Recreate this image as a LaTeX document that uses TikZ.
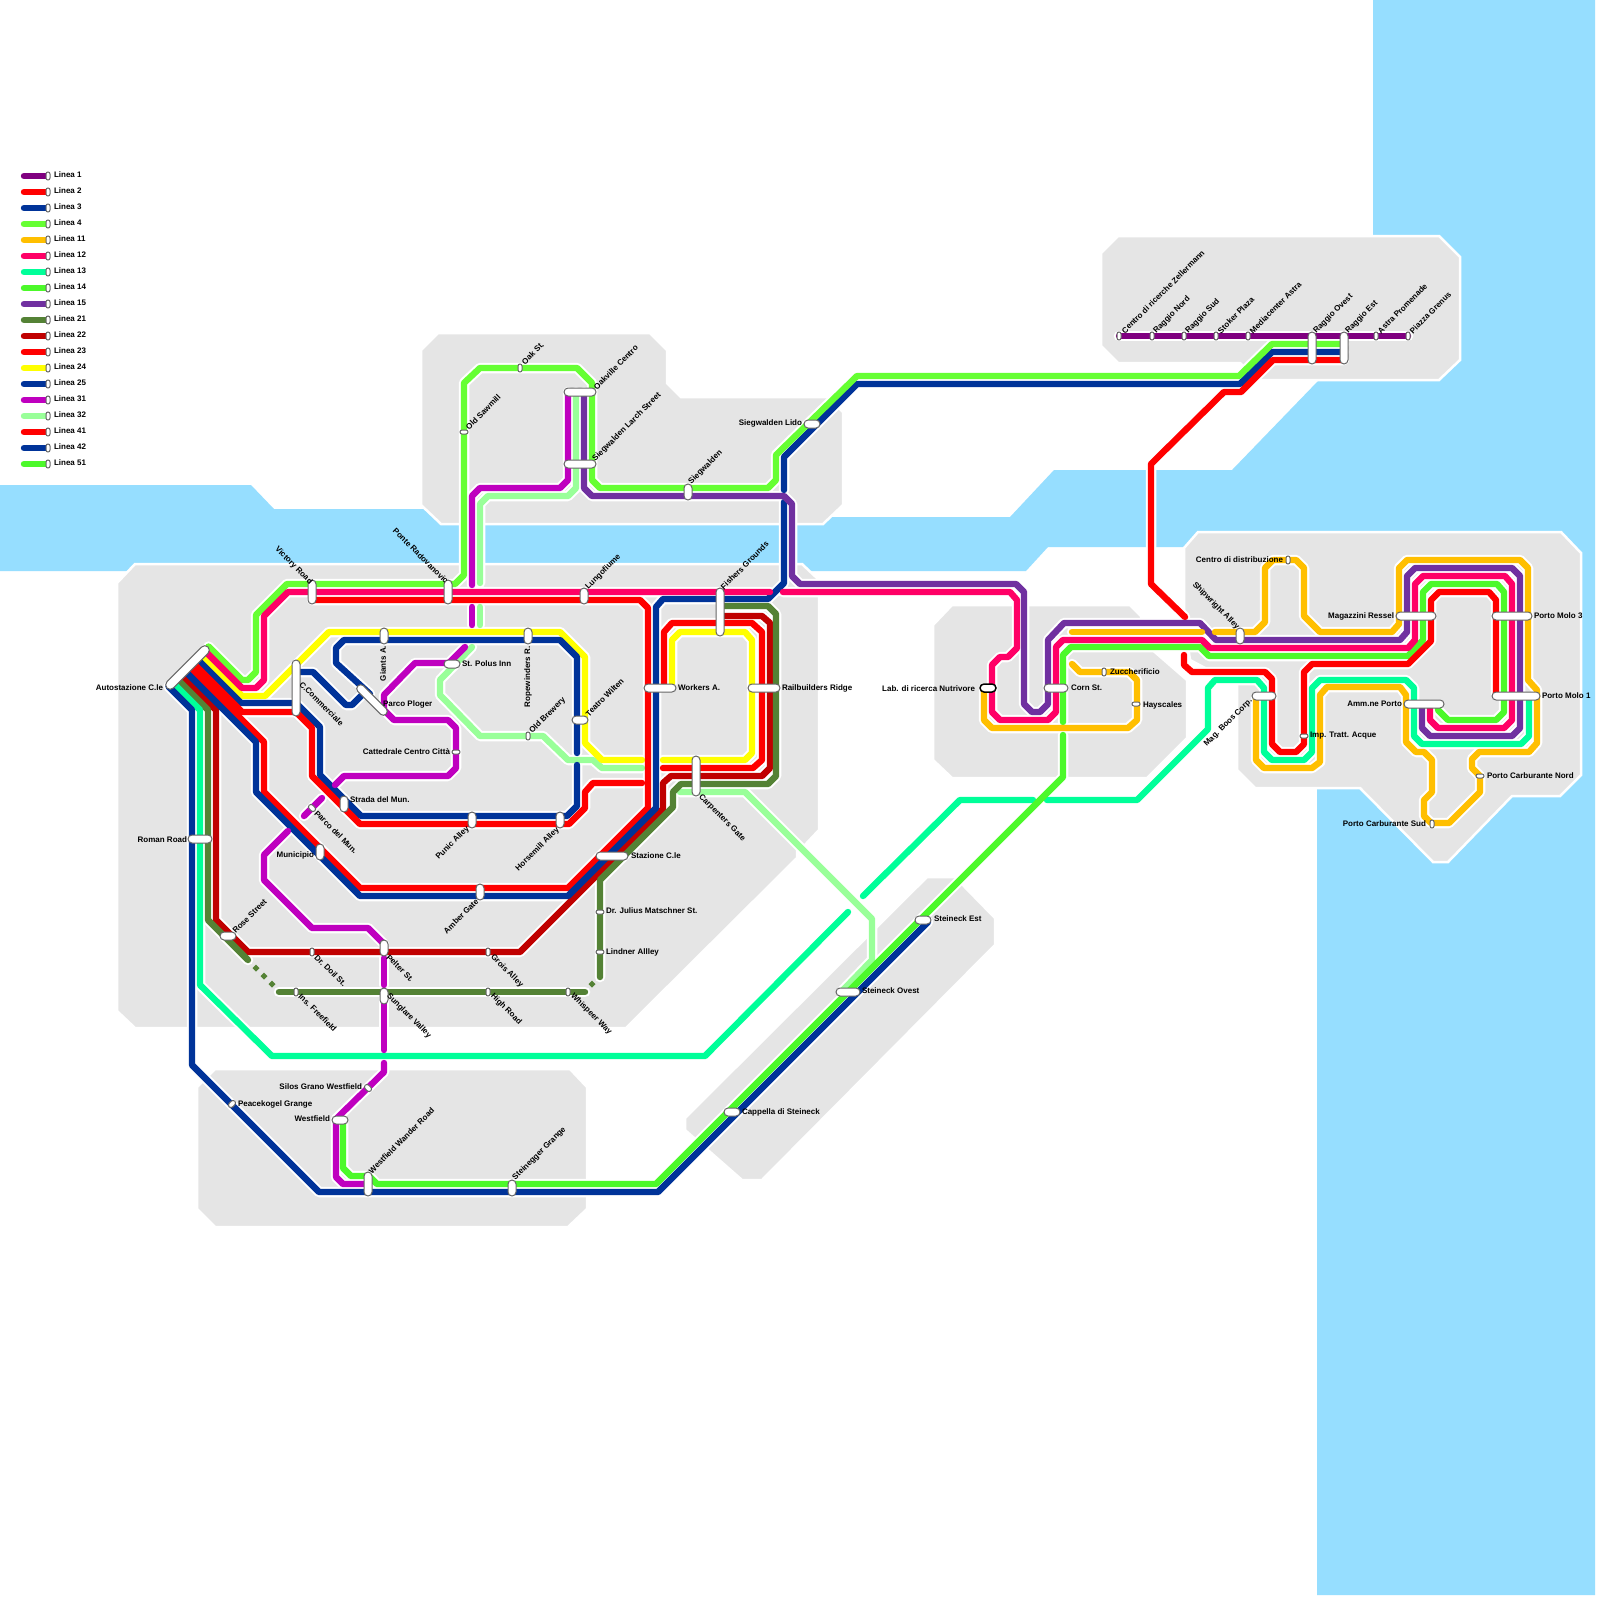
\documentclass[tikz,border=0pt]{standalone}
\usepackage{fontspec}
\setmainfont{Liberation Sans}
\usetikzlibrary{shapes.misc}
\definecolor{water}{HTML}{96DEFF}
\definecolor{land}{HTML}{E5E5E5}
\definecolor{cA}{HTML}{800080}
\definecolor{cR}{HTML}{FF0000}
\definecolor{cB}{HTML}{003399}
\definecolor{cL}{HTML}{66FF33}
\definecolor{cY}{HTML}{FFBF00}
\definecolor{cP}{HTML}{FF0066}
\definecolor{cM}{HTML}{00FF99}
\definecolor{cG}{HTML}{4CF92A}
\definecolor{cV}{HTML}{7030A0}
\definecolor{cO}{HTML}{548235}
\definecolor{cD}{HTML}{C00000}
\definecolor{cW}{HTML}{FFFF00}
\definecolor{cH}{HTML}{BF00BF}
\definecolor{cT}{HTML}{99FF99}
\tikzset{
  landbit/.style={fill=land,draw=white,line width=2.5},
  halo/.style={draw=white,line width=10.5,line cap=round,line join=round},
  core/.style={line width=6.4,line cap=round,line join=round},
  stop/.style={rounded rectangle,draw=black!60,fill=white,line width=1,inner sep=0,outer sep=0},
  lbl/.style={inner sep=0,outer sep=0,font=\fontsize{8}{10}\selectfont\bfseries},
}
\newcounter{lc}
\newcommand\stn[6]{\node[stop,minimum width=#4,minimum height=#5,rotate=#6] (#1) at (#2,#3) {};}
\newcommand\lab[5]{\stepcounter{lc}\node[lbl,anchor=#1,rotate=#2] (lab\thelc) at (#3,#4) {#5};}
\newcommand\dotmark[2]{\fill[cO] (#1-3.5,#2) -- (#1,#2-3.5) -- (#1+3.5,#2) -- (#1,#2+3.5) -- cycle;}
\newcommand\ml[2]{}
\newcommand\alllines{%
\ml{cA}{(1119,336)--(1408,336)}
\ml{cT}{(576,392)--(576,488)--(568,496)--(488,496)--(480,504)--(480,583)}
\ml{cT}{(480,607)--(480,625)}
\ml{cT}{(472,647)--(440,680)--(440,695)--(480,736)--(543,736)--(568,760)--(593,760)--(602,768)--(642,768)}
\ml{cT}{(680,792)--(745,792)--(872,919)--(872,960)--(843,990)}
\ml{cD}{(180.5,674.5)--(216,710)--(216,920)--(248,952)--(520,952)--(663,809)--(663,783)--(671,776)--(762,776)--(770,768)--(770,623)--(762,616)--(723,616)}
\ml{cO}{(176.5,678.5)--(208,710)--(208,920)--(248,960)}
\ml{cO}{(279,992)--(585,992)}
\ml{cO}{(600,977)--(600,880)--(673,807)--(673,792)--(681,784)--(768,784)--(776,776)--(776,614)--(768,606)--(723,606)}
\ml{cM}{(172.5,682.5)--(200,710)--(200,985)--(272,1056)--(705,1056)--(848,912)}
\ml{cM}{(863,896)--(960,800)--(1033,800)}
\ml{cM}{(1047,800)--(1137,800)--(1208,729)--(1208,688)--(1215,680)--(1257,680)--(1264,688)--(1264,752)--(1272,760)--(1304,760)--(1312,752)--(1312,688)--(1320,680)--(1406,680)--(1414,688)--(1414,736)--(1422,744)--(1521,744)--(1529,736)--(1529,700)}
\ml{cW}{(200.5,654.5)--(242,696)--(265,696)--(329,632)--(560,632)--(585,657)--(585,743)--(602,760)--(642,760)}
\ml{cW}{(663,760)--(745,760)--(752,753)--(752,640)--(745,632)--(680,632)--(672,640)--(672,683)}
\ml{cR}{(663,768)--(753,768)--(762,760)--(762,632)--(752,623)--(672,623)--(664,632)--(664,683)}
\ml{cB}{(296,672)--(313,672)--(346,705)--(352,705)--(364,693)}
\ml{cB}{(370,694)--(336,663)--(336,648)--(344,640)--(560,640)--(577,657)--(577,753)}
\ml{cB}{(196.5,658.5)--(241,703)--(296,703)--(320,727)--(320,775)--(361,816)--(567,816)--(577,806)--(577,765)}
\ml{cR}{(192.5,662.5)--(242,712)--(296,712)--(312,728)--(312,776)--(360,824)--(569,824)--(585,808)--(585,792)--(593,783)--(642,783)}
\ml{cR}{(188.5,666.5)--(264,742)--(264,792)--(360,888)--(568,888)--(648,808)--(648,608)--(640,600)--(312,600)}
\ml{cB}{(184.5,670.5)--(256,742)--(256,792)--(360,896)--(568,896)--(656,808)--(656,607)--(663,599)--(768,599)--(784,583)--(784,502)}
\ml{cB}{(784,490)--(784,457)--(857,384)--(1240,384)--(1272,352)--(1344,352)}
\ml{cR}{(1344,360)--(1273,360)--(1241,392)--(1224,392)--(1151,464)--(1151,584)--(1185,617)}
\ml{cB}{(168.5,686.5)--(192,710)--(192,1065)--(319,1192)--(658,1192)--(928,922)}
\ml{cG}{(343,1122)--(343,1168)--(351,1176)--(369,1176)--(377,1184)--(656,1184)--(1063,777)--(1063,735)}
\ml{cG}{(1063,722)--(1063,655)--(1071,647)--(1200,647)--(1209,656)--(1408,656)--(1423,640)--(1423,592)--(1431,584)--(1497,584)--(1504,592)--(1504,712)--(1496,720)--(1448,720)--(1438,710)--(1438,705)}
\ml{cL}{(208.5,646.5)--(242,680)--(248,680)--(256,672)--(256,615)--(287,584)--(455,584)--(464,575)--(464,383)--(480,368)--(577,368)--(592,383)--(592,480)--(600,488)--(768,488)--(776,480)--(776,455)--(857,376)--(1239,376)--(1272,344)--(1344,344)}
\ml{cP}{(204.5,650.5)--(242,688)--(256,688)--(264,680)--(264,616)--(288,592)--(770,592)}
\ml{cP}{(783,592)--(1010,592)--(1017,600)--(1017,648)--(1008,657)--(1000,657)--(992,665)--(992,712)--(1000,720)--(1048,720)--(1056,712)--(1056,647)--(1063,640)--(1202,640)--(1210,648)--(1408,648)--(1415,640)--(1415,584)--(1423,576)--(1505,576)--(1512,584)--(1512,720)--(1504,728)--(1438,728)--(1430,720)--(1430,705)}
\ml{cV}{(584,392)--(584,488)--(592,496)--(784,496)--(792,504)--(792,576)--(800,584)--(1016,584)--(1024,592)--(1024,704)--(1032,712)--(1040,712)--(1048,704)--(1048,640)--(1064,623)--(1200,623)--(1216,640)--(1400,640)--(1407,632)--(1407,576)--(1415,568)--(1512,568)--(1520,576)--(1520,728)--(1512,736)--(1430,736)--(1422,728)--(1422,705)}
\ml{cR}{(1184,655)--(1184,665)--(1192,672)--(1265,672)--(1272,679)--(1272,744)--(1280,752)--(1296,752)--(1304,744)--(1304,672)--(1312,664)--(1408,664)--(1431,641)--(1431,600)--(1439,592)--(1489,592)--(1496,600)--(1496,695)}
\ml{cH}{(568,392)--(568,480)--(560,488)--(480,488)--(472,496)--(472,585)}
\ml{cH}{(472,607)--(472,625)}
\ml{cH}{(465,647)--(449,663)--(415,663)--(384,695)--(384,710)--(394,720)--(448,720)--(456,728)--(456,768)--(448,776)--(344,776)--(335,785)}
\ml{cH}{(322,798)--(304,816)}
\ml{cH}{(288,831)--(264,855)--(264,880)--(312,928)--(368,928)--(384,944)}
\ml{cH}{(384,958)--(384,985)}
\ml{cH}{(384,996)--(384,1050)}
\ml{cH}{(384,1063)--(384,1072)--(336,1119)--(336,1177)--(343,1184)--(369,1184)}
\ml{cY}{(984,688)--(984,720)--(992,728)--(1128,728)--(1137,720)--(1137,680)--(1129,672)--(1080,672)--(1072,664)}
\ml{cY}{(1072,632)--(1202,632)}
\ml{cY}{(1215,632)--(1255,632)--(1265,622)--(1265,568)--(1273,560)--(1296,560)--(1304,568)--(1304,616)--(1320,632)--(1392,632)--(1399,624)--(1399,568)--(1407,560)--(1520,560)--(1528,568)--(1528,680)--(1537,690)--(1537,743)--(1529,752)--(1479,752)--(1472,759)--(1472,768)--(1480,776)--(1480,792)--(1449,823)--(1431,823)--(1424,816)--(1424,800)--(1432,792)--(1432,760)--(1424,752)--(1416,752)--(1406,742)--(1406,695)--(1400,687)--(1327,687)--(1320,695)--(1320,762)--(1312,768)--(1264,768)--(1256,760)--(1256,698)}
}
\begin{document}
\begin{tikzpicture}[x=1pt,y=-1pt]
\useasboundingbox (0,0) rectangle (1600,1600);
\fill[white] (0,0) rectangle (1600,1600);
% water
\fill[water] (0,485)--(251,485)--(274,509)--(500,509)--(500,517)--(1010,517)--(1054,470)--(1232,470)--(1318,381)--(1373,381)--(1373,0)--(1595,0)--(1595,1595)--(1317,1595)--(1317,789)--(1300,700)--(1300,547)--(1048,547)--(1026,571)--(0,571)--cycle;
% land
\path[landbit] (135,564)--(802,564)--(819,580)--(819,830)--(803,847)--(797,847)--(797,858)--(626,1028)--(135,1028)--(117,1011)--(117,583)--cycle;
\path[landbit] (438,333)--(650,333)--(667,350)--(667,383)--(681,397)--(827,397)--(843,412)--(843,505)--(823,524)--(441,524)--(421,505)--(421,350)--cycle;
\path[landbit] (1118,236)--(1439,236)--(1460,257)--(1460,360)--(1439,380)--(1257,380)--(1240,363)--(1118,363)--(1101,346)--(1101,253)--cycle;
\path[landbit] (952,605)--(1130,605)--(1141,616)--(1141,640)--(1187,680)--(1187,738)--(1147,778)--(952,778)--(933,760)--(933,625)--cycle;
\path[landbit] (1198,532)--(1561,532)--(1581,553)--(1581,775)--(1560,796)--(1512,796)--(1448,862)--(1433,862)--(1360,788)--(1255,788)--(1237,770)--(1237,685)--(1190,660)--(1184,620)--(1184,548)--cycle;
\path[landbit] (215,1069)--(570,1069)--(587,1087)--(587,1209)--(568,1227)--(215,1227)--(197,1209)--(197,1087)--cycle;
\path[landbit] (927,877)--(955,877)--(995,918)--(995,945)--(762,1180)--(742,1180)--(685,1130)--(685,1118)--cycle;
% lines
\renewcommand\ml[2]{\draw[halo] #2;}
\alllines
\renewcommand\ml[2]{\draw[core,#1] #2;}
\alllines
\dotmark{256}{968}\dotmark{264}{976}\dotmark{272}{984}\dotmark{592}{984}
% stations
\stn{auto}{187.5}{667.5}{58}{9}{45}
\stn{vict}{312}{592}{24}{8}{90}
\stn{ponte}{448}{592}{24}{8}{90}
\stn{lungo}{584}{596}{16}{8}{90}
\stn{fish}{720}{612}{48}{8}{90}
\stn{work}{660}{688}{32}{8}{0}
\stn{rail}{764}{688}{32}{8}{0}
\stn{carp}{696}{776}{40}{8}{90}
\stn{staz}{612}{856}{32}{8}{0}
\stn{teat}{580}{720}{16}{8}{0}
\stn{rope}{528}{636}{16}{8}{90}
\stn{brew}{528}{736}{8}{4}{90}
\stn{horse}{560}{820}{16}{8}{90}
\stn{giant}{384}{636}{16}{8}{90}
\stn{polus}{452}{664}{16}{8}{0}
\stn{plog}{372}{700}{40}{8}{-45}
\stn{comm}{296}{688}{56}{8}{90}
\stn{catt}{456}{752}{8}{4}{0}
\stn{strada}{344}{804}{16}{8}{90}
\stn{punic}{472}{820}{16}{8}{90}
\stn{amber}{480}{892}{16}{8}{90}
\stn{muni}{320}{852}{16}{8}{90}
\stn{pmun}{312}{808}{8}{5}{-45}
\stn{roman}{200}{839}{24}{8}{0}
\stn{rose}{228}{936}{16}{8}{0}
\stn{doil}{312}{952}{8}{4}{90}
\stn{pelter}{384}{948}{16}{8}{90}
\stn{sung}{384}{996}{16}{8}{90}
\stn{grois}{488}{952}{8}{4}{90}
\stn{free}{296}{992}{8}{4}{90}
\stn{high}{488}{992}{8}{4}{90}
\stn{whisp}{568}{992}{8}{4}{90}
\stn{julius}{600}{912}{8}{4}{0}
\stn{lind}{600}{952}{8}{4}{0}
\stn{silos}{368}{1088}{8}{5}{-45}
\stn{peace}{232}{1104}{8}{5}{45}
\stn{westf}{340}{1120}{16}{8}{0}
\stn{wander}{368}{1184}{24}{8}{90}
\stn{stein}{512}{1188}{16}{8}{90}
\stn{capp}{732}{1112}{16}{8}{0}
\stn{sovest}{848}{992}{24}{8}{0}
\stn{sest}{923}{920}{16}{8}{0}
\stn{slido}{812}{424}{16}{8}{0}
\stn{sieg}{688}{492}{16}{8}{90}
\stn{larch}{580}{464}{32}{8}{0}
\stn{oakv}{580}{392}{32}{8}{0}
\stn{saw}{464}{432}{8}{4}{0}
\stn{oak}{520}{368}{8}{4}{90}
\stn{zell}{1119}{336}{8}{4}{90}
\stn{rnord}{1152}{336}{8}{4}{90}
\stn{rsud}{1184}{336}{8}{4}{90}
\stn{stok}{1216}{336}{8}{4}{90}
\stn{media}{1248}{336}{8}{4}{90}
\stn{rovest}{1312}{348}{32}{8}{90}
\stn{rest}{1344}{348}{32}{8}{90}
\stn{astra}{1376}{336}{8}{4}{90}
\stn{grenus}{1408}{336}{8}{4}{90}
\node[stop,draw=black,line width=1.5,minimum width=16,minimum height=8] (nutri) at (988,688) {};
\stn{corn}{1056}{688}{24}{8}{0}
\stn{zucc}{1104}{672}{8}{4}{90}
\stn{hays}{1136}{704}{8}{4}{0}
\stn{distr}{1288}{560}{8}{4}{90}
\stn{ship}{1240}{636}{16}{8}{90}
\stn{boos}{1264}{696}{24}{8}{0}
\stn{ressel}{1416}{616}{40}{8}{0}
\stn{molot}{1512}{616}{40}{8}{0}
\stn{moloa}{1516}{696}{48}{8}{0}
\stn{amm}{1424}{704}{40}{8}{0}
\stn{tratt}{1304}{736}{8}{4}{0}
\stn{cnord}{1480}{776}{8}{4}{0}
\stn{csud}{1432}{824}{8}{4}{90}
% labels
\lab{east}{0}{163}{688}{Autostazione C.le}
\lab{east}{-45}{311}{583}{Victory Road}
\lab{east}{-45}{447}{582}{Ponte Radovanovic}
\lab{west}{45}{587}{588}{Lungofiume}
\lab{west}{45}{722}{588}{Fishers Grounds}
\lab{west}{0}{678}{688}{Workers A.}
\lab{west}{0}{782}{688}{Railbuilders Ridge}
\lab{west}{-45}{700}{796}{Carpenters Gate}
\lab{west}{0}{631}{856}{Stazione C.le}
\lab{west}{45}{587}{715}{Teatro Wilten}
\lab{west}{90}{528}{707}{Ropewinders R.}
\lab{west}{45}{531}{732}{Old Brewery}
\lab{east}{45}{558}{829}{Horsemill Alley}
\lab{west}{90}{383}{681}{Giants A.}
\lab{west}{0}{462}{664}{St. Polus Inn}
\lab{west}{0}{383}{704}{Parco Ploger}
\lab{west}{-45}{301}{683}{C.Commerciale}
\lab{east}{0}{450}{752}{Cattedrale Centro Città}
\lab{west}{0}{350}{800}{Strada del Mun.}
\lab{west}{-45}{316}{812}{Parco del Mun.}
\lab{east}{45}{468}{828}{Punic Alley}
\lab{east}{45}{477}{900}{Amber Gate}
\lab{east}{0}{314}{855}{Municipio}
\lab{east}{0}{187}{840}{Roman Road}
\lab{west}{45}{234}{932}{Rose Street}
\lab{west}{-45}{316}{956}{Dr. Doil St.}
\lab{west}{-45}{388}{956}{Pelter St.}
\lab{west}{-45}{492}{956}{Grois Alley}
\lab{west}{-45}{300}{995}{Ins. Freefield}
\lab{west}{-45}{388}{995}{Sunglare Valley}
\lab{west}{-45}{492}{995}{High Road}
\lab{west}{-45}{572}{995}{Whispeer Way}
\lab{west}{0}{606}{911}{Dr. Julius Matschner St.}
\lab{west}{0}{606}{952}{Lindner Allley}
\lab{east}{0}{362}{1087}{Silos Grano Westfield}
\lab{west}{0}{238}{1104}{Peacekogel Grange}
\lab{east}{0}{330}{1119}{Westfield}
\lab{west}{45}{370}{1172}{Westfield Wander Road}
\lab{west}{45}{514}{1179}{Steinegger Grange}
\lab{west}{0}{742}{1112}{Cappella di Steineck}
\lab{west}{0}{862}{991}{Steineck Ovest}
\lab{west}{0}{934}{919}{Steineck Est}
\lab{east}{0}{802}{423}{Siegwalden Lido}
\lab{west}{45}{690}{483}{Siegwalden}
\lab{west}{45}{594}{460}{Siegwalden Larch Street}
\lab{west}{45}{595}{388}{Oakville Centro}
\lab{west}{45}{467}{428}{Old Sawmill}
\lab{west}{45}{523}{363}{Oak St.}
\lab{west}{45}{1123}{332}{Centro di ricerche Zellermann}
\lab{west}{45}{1155}{332}{Raggio Nord}
\lab{west}{45}{1187}{332}{Raggio Sud}
\lab{west}{45}{1219}{332}{Stoker Plaza}
\lab{west}{45}{1251}{332}{Mediacenter Astra}
\lab{west}{45}{1315}{332}{Raggio Ovest}
\lab{west}{45}{1347}{332}{Raggio Est}
\lab{west}{45}{1379}{332}{Astra Promenade}
\lab{west}{45}{1411}{332}{Piazza Grenus}
\lab{east}{0}{975}{689}{Lab. di ricerca Nutrivore}
\lab{west}{0}{1071}{688}{Corn St.}
\lab{west}{0}{1110}{672}{Zuccherificio}
\lab{west}{0}{1143}{705}{Hayscales}
\lab{east}{0}{1283}{560}{Centro di distribuzione}
\lab{east}{-45}{1238}{628}{Shipwright Alley}
\lab{east}{45}{1251}{700}{Mag. Boos Corp.}
\lab{east}{0}{1394}{616}{Magazzini Ressel}
\lab{west}{0}{1534}{616}{Porto Molo 3}
\lab{west}{0}{1542}{696}{Porto Molo 1}
\lab{east}{0}{1402}{704}{Amm.ne Porto}
\lab{west}{0}{1310}{736}{Imp. Tratt. Acque}
\lab{west}{0}{1487}{776}{Porto Carburante Nord}
\lab{east}{0}{1426}{824}{Porto Carburante Sud}
% legend
\foreach \n/\c/\t [count=\i from 0] in {a/cA/Linea 1,b/cR/Linea 2,c/cB/Linea 3,d/cL/Linea 4,e/cY/Linea 11,f/cP/Linea 12,g/cM/Linea 13,h/cG/Linea 14,j/cV/Linea 15,k/cO/Linea 21,m/cD/Linea 22,n/cR/Linea 23,o/cW/Linea 24,p/cB/Linea 25,q/cH/Linea 31,r/cT/Linea 32,s/cR/Linea 41,u/cB/Linea 42,v/cG/Linea 51}{
  \draw[core,\c] (24,176+16*\i) -- (46,176+16*\i);
  \node[stop,minimum width=8,minimum height=4,rotate=90] (key\n) at (48,176+16*\i) {};
  \node[lbl,anchor=west] (keylab\n) at (54,175+16*\i) {\t};
}
\end{tikzpicture}
\end{document}
